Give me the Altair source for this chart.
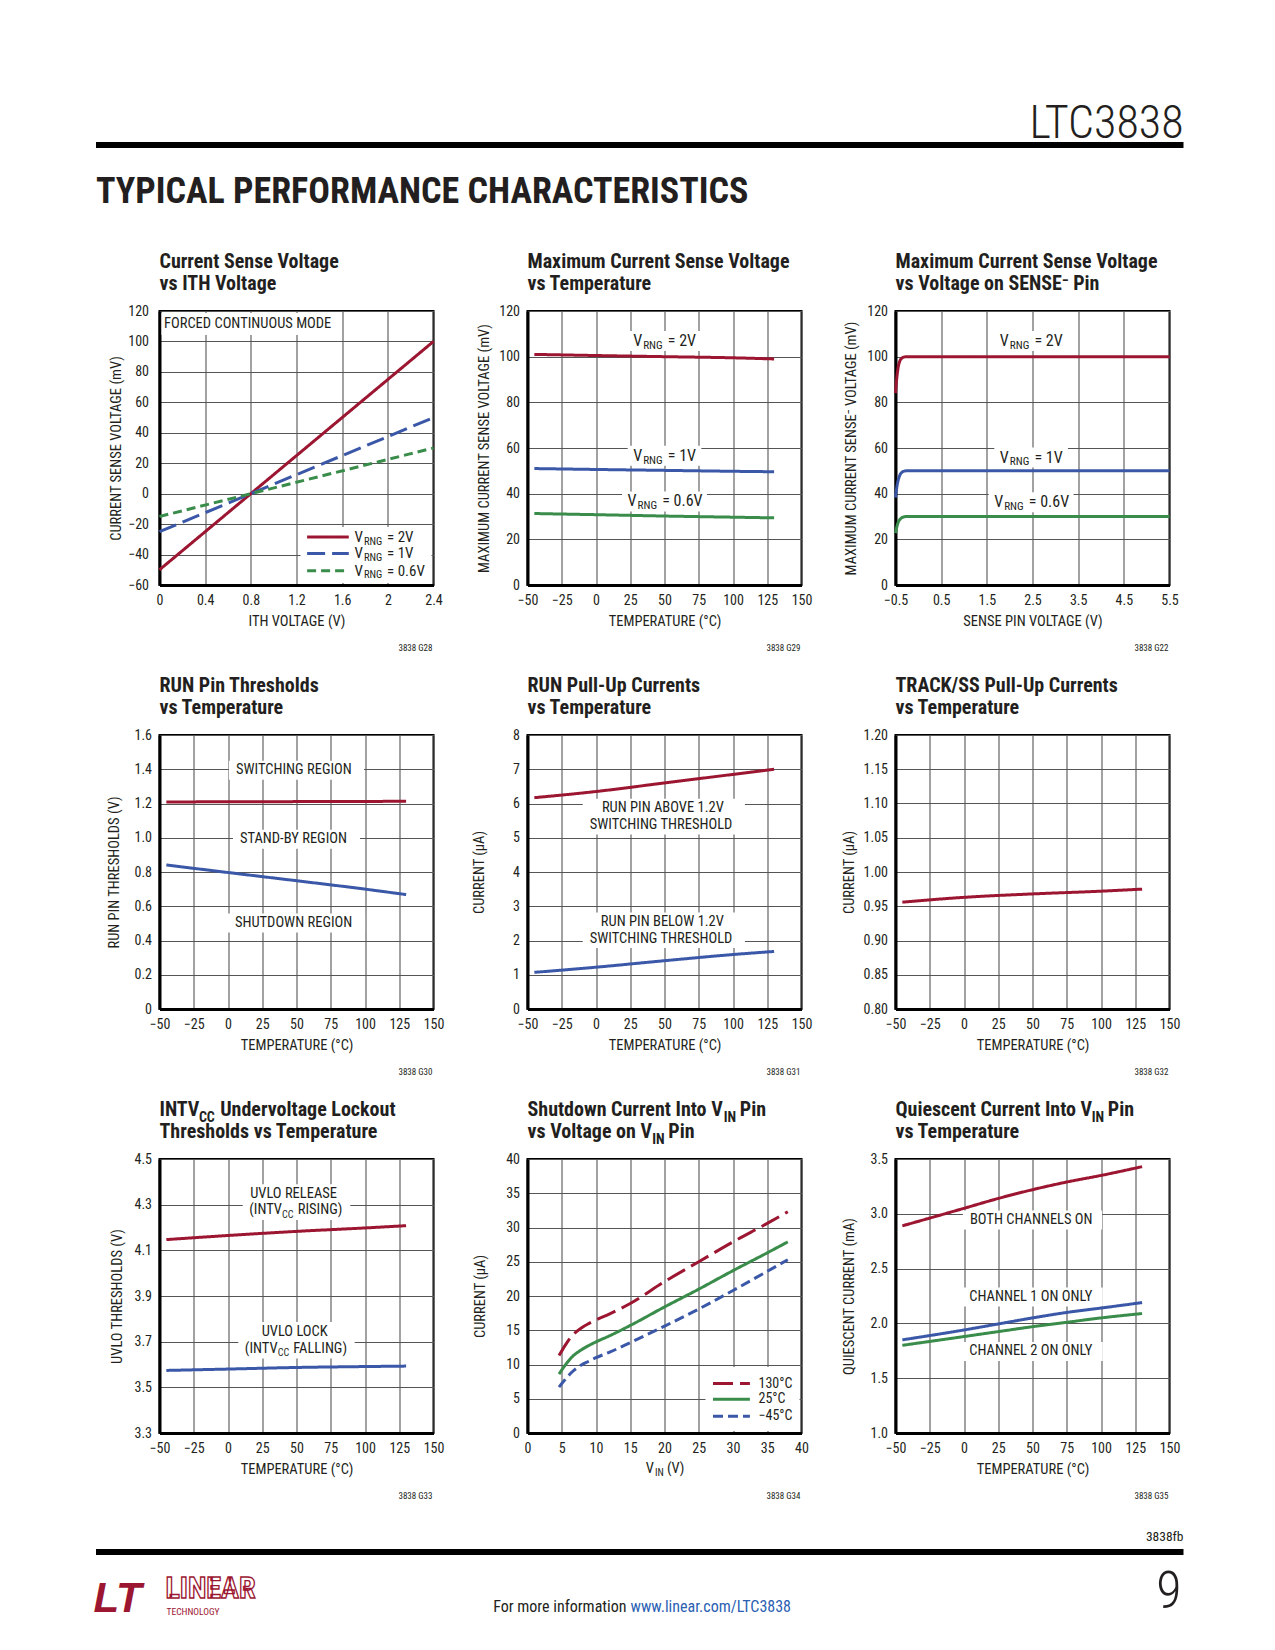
import altair as alt
import pandas as pd

FONT = "Liberation Sans Narrow, Arial Narrow, Roboto Condensed, DejaVu Sans Condensed, Liberation Sans, sans-serif"
INK = "#231f20"
RED = "#9c1631"
BLUE = "#3b58a8"
GREEN = "#3a8c4a"
LINK = "#2b5fb3"
GRID = "#555555"
W = 274
H = 274

# ---------------- data ----------------
# G28 current sense voltage vs ITH voltage
ith_v = [0.0, 0.8, 2.4]
g28_2v = [-50, 0, 100]
g28_1v = [-25, 0, 50]
g28_06v = [-15, 0, 30]
# G29 max current sense voltage vs temperature
g29_temp = [-45, 0, 50, 100, 130]
g29_2v = [101.0, 100.5, 100.0, 99.5, 99.0]
g29_1v = [51.0, 50.6, 50.2, 49.8, 49.6]
g29_06v = [31.3, 30.8, 30.2, 29.7, 29.4]
# G22 max current sense voltage vs SENSE- voltage
sense_v = [-0.5, -0.47, -0.44, -0.40, -0.35, -0.30, -0.25, 5.5]
g22_2v = [84.0, 91.0, 95.5, 98.3, 99.5, 99.9, 100.0, 100.0]
g22_1v = [38.3, 43.0, 46.0, 48.3, 49.5, 49.9, 50.0, 50.0]
g22_06v = [22.7, 25.5, 27.5, 28.8, 29.6, 29.9, 30.0, 30.0]
# G30 RUN pin thresholds
g30_temp = [-45, 0, 50, 100, 130]
g30_on = [1.209, 1.210, 1.211, 1.212, 1.213]
g30_off = [0.841, 0.797, 0.749, 0.700, 0.668]
# G31 RUN pull-up currents
g31_temp = [-45, 0, 50, 100, 130]
g31_above = [6.17, 6.35, 6.60, 6.85, 7.00]
g31_below = [1.07, 1.22, 1.41, 1.59, 1.68]
# G32 TRACK/SS pull-up current
g32_temp = [-45, 0, 50, 100, 130]
g32_ss = [0.956, 0.963, 0.968, 0.972, 0.975]
# G33 UVLO thresholds
g33_temp = [-45, 0, 50, 100, 130]
g33_release = [4.147, 4.165, 4.183, 4.198, 4.208]
g33_lock = [3.574, 3.580, 3.587, 3.591, 3.593]
# G34 shutdown current vs VIN
vin = [4.6, 5.5, 6.5, 7.8, 9, 10, 12, 15, 20, 25, 30, 35, 38]
g34_130 = [11.3, 12.8, 14.2, 15.3, 16.0, 16.5, 17.4, 18.9, 22.1, 25.0, 27.9, 30.6, 32.3]
g34_25 = [8.6, 9.9, 11.1, 12.1, 12.8, 13.3, 14.2, 15.7, 18.4, 21.0, 23.7, 26.3, 27.9]
g34_m45 = [6.7, 7.8, 8.9, 9.9, 10.5, 11.0, 11.8, 13.2, 15.6, 18.1, 20.8, 23.6, 25.3]
# G35 quiescent current vs temperature
g35_temp = [-45, 0, 25, 50, 75, 100, 130]
g35_both = [2.89, 3.05, 3.14, 3.22, 3.29, 3.35, 3.43]
g35_ch1 = [1.85, 1.94, 1.995, 2.05, 2.10, 2.14, 2.19]
g35_ch2 = [1.80, 1.88, 1.925, 1.97, 2.01, 2.05, 2.09]

temp_ticks = [-50, -25, 0, 25, 50, 75, 100, 125, 150]
codes = ["3838 G28", "3838 G29", "3838 G22", "3838 G30", "3838 G31",
         "3838 G32", "3838 G33", "3838 G34", "3838 G35"]

ONE = pd.DataFrame({"k": [0]})

# ---------------- text width estimate (Arial Narrow metrics) ----------------
AR, ARB = {}, {}
def _set(tbl, chars, w):
    for c in chars:
        tbl[c] = w
_set(AR, " !,./:;[]ftI", 278); _set(AR, "ijl", 222); _set(AR, "()-r", 333)
_set(AR, "ckvxyzsJ", 500); _set(AR, "0123456789abdeghnopquL?$", 556)
_set(AR, "=+\u2212<>", 584); _set(AR, "FTZ", 611); _set(AR, "ABEKPSVXY", 667)
_set(AR, "CDHNRUw", 722); _set(AR, "GOQ", 778); _set(AR, "Mm", 833); _set(AR, "W", 944)
_set(AR, "\u00b0", 400); _set(AR, "\u03bc", 576)
_set(ARB, " !,./:;[]Iijl", 278); _set(ARB, "()-tf", 333); _set(ARB, "r", 389)
_set(ARB, "0123456789acekvxysJ?$", 556); _set(ARB, "z", 500)
_set(ARB, "bdghnopquFTZL", 611); _set(ARB, "=+\u2212", 584); _set(ARB, "EPSVXY", 667)
_set(ARB, "ABCDHKNRU", 722); _set(ARB, "GOQw", 778); _set(ARB, "M", 833)
_set(ARB, "m", 889); _set(ARB, "W", 944)
NARROW = 0.84
NARROW_B = 0.825


def tw(s, size, bold=False):
    tbl = ARB if bold else AR
    f = NARROW_B if bold else NARROW
    return sum(tbl.get(c, 556) for c in s) * f * size / 1000.0


class Ctx:
    """Scales and axes of one panel, shared by every layer that uses data coordinates."""
    def __init__(self, xdom, ydom, xax, yax):
        self.xdom, self.ydom = xdom, ydom
        self.xs = alt.Scale(domain=xdom, nice=False, zero=False)
        self.ys = alt.Scale(domain=ydom, nice=False, zero=False)
        self.xax, self.yax = xax, yax

    def X(self, *a, **kw):
        return alt.X(*a, scale=self.xs, axis=self.xax, **kw)

    def Y(self, *a, **kw):
        return alt.Y(*a, scale=self.ys, axis=self.yax, **kw)


def rich(runs, x, y, size, bold=False, align="left", color=INK, ctx=None, baseline="middle"):
    small = size * 0.7
    items = []
    for t, k in runs:
        fs = size if k == "n" else small
        gap = (1.8 if bold else 1.0) if k != "n" else 0.0
        items.append((t, k, fs, tw(t, fs, bold) + gap, gap))
    total = sum(i[3] for i in items)
    off = {"left": 0.0, "center": -total / 2.0, "right": -total}[align]
    out = []
    for t, k, fs, wd, gap in items:
        stripped = t.lstrip(" ")
        lead = tw(" " * (len(t) - len(stripped)), fs, bold) + gap
        dy = 0 if k == "n" else (0.3 * size if k == "sub" else -0.42 * size)
        txt = stripped.rstrip(" ")
        if txt:
            mk = alt.Chart(ONE).mark_text(
                text=txt, font=FONT, fontSize=fs,
                fontWeight="bold" if bold else "normal", color=color,
                align="left", baseline=baseline, dx=off + lead, dy=dy)
            if ctx is None:
                enc = {"x": alt.value(x), "y": alt.value(y)}
            else:
                enc = {"x": ctx.X(datum=x), "y": ctx.Y(datum=y)}
            out.append(mk.encode(**enc))
        off += wd
    return out


def ptext(s, x, y, size, align="left", baseline="middle", weight="normal", color=INK,
          style="normal", font=FONT, **kw):
    return alt.Chart(ONE).mark_text(
        text=s, font=font, fontSize=size, fontWeight=weight, fontStyle=style, color=color,
        align=align, baseline=baseline, **kw).encode(x=alt.value(x), y=alt.value(y))


def pbox(x1, y1, x2, y2, color="white"):
    return alt.Chart(ONE).mark_rect(color=color).encode(
        x=alt.value(x1), x2=alt.value(x2), y=alt.value(y1), y2=alt.value(y2))


def dbox(ctx, cx, cy, wpx, hpx):
    hx = wpx / 2.0 * (ctx.xdom[1] - ctx.xdom[0]) / W
    hy = hpx / 2.0 * (ctx.ydom[1] - ctx.ydom[0]) / H
    return alt.Chart(ONE).mark_rect(color="white").encode(
        x=ctx.X(datum=cx - hx), x2=alt.X2(datum=cx + hx),
        y=ctx.Y(datum=cy - hy), y2=alt.Y2(datum=cy + hy))


def prule(x1, x2, y, color, dash, width=3):
    return alt.Chart(ONE).mark_rule(color=color, strokeWidth=width, strokeDash=dash).encode(
        x=alt.value(x1), x2=alt.value(x2), y=alt.value(y))


def labeled(ctx, lines, cx, size=14.5, padx=7, line_h=19):
    widths = [sum(tw(t, size if k == "n" else size * 0.7) for t, k in runs) for runs, _ in lines]
    ys = [y for _, y in lines]
    span_px = (max(ys) - min(ys)) * H / (ctx.ydom[1] - ctx.ydom[0])
    boxes = [dbox(ctx, cx, (max(ys) + min(ys)) / 2.0, max(widths) + 2 * padx, span_px + line_h)]
    texts = []
    for runs, y in lines:
        texts += rich(runs, cx, y, size, align="center", ctx=ctx)
    return boxes, texts


def long_df(xs, series):
    rows = []
    for name, ys in series:
        for xv, yv in zip(xs, ys):
            rows.append({"x": xv, "y": yv, "s": name})
    return pd.DataFrame(rows)


def axis_x(vals, fmt=None, expr=None, title=None):
    kw = dict(values=vals, labelFlush=False, labelOverlap=False, labelBaseline="middle",
              labelPadding=15)
    if fmt:
        kw["format"] = fmt
    if expr:
        kw["labelExpr"] = expr
    if title is not None:
        kw.update(title=title, titleY=36, titleX=W / 2, titleBaseline="middle", titleAlign="center")
    else:
        kw["title"] = None
    return alt.Axis(**kw)


def axis_y(vals, title, tx, fmt=None, expr=None, pad=8):
    kw = dict(values=vals, labelFlush=False, labelOverlap=False, labelPadding=pad,
              title=title, titleX=tx, titleY=H / 2, titleAngle=270,
              titleBaseline="middle", titleAlign="center")
    if fmt:
        kw["format"] = fmt
    if expr:
        kw["labelExpr"] = expr
    return alt.Axis(**kw)


def panel(ctx, df, names, colors, dashes, title1, title2, code, pre=None, post=None):
    line = alt.Chart(df).mark_line(strokeWidth=3, interpolate="monotone").encode(
        x=ctx.X("x:Q"),
        y=ctx.Y("y:Q"),
        color=alt.Color("s:N", scale=alt.Scale(domain=names, range=colors), legend=None),
        strokeDash=alt.StrokeDash("s:N", scale=alt.Scale(domain=names, range=dashes), legend=None),
    )
    layers = list(pre or []) + [line] + list(post or [])
    layers += rich(title1, 0, -43, 20, bold=True, baseline="alphabetic")
    layers += rich(title2, 0, -21, 20, bold=True, baseline="alphabetic")
    layers.append(ptext(code, 273, 337, 9, align="right"))
    return alt.layer(*layers).properties(width=W, height=H)


SOLID = [1, 0]
LONG = [18, 7]
SHORT = [9, 5]


def vrng(val):
    return [("V", "n"), ("RNG", "sub"), (" = " + val, "n")]


# ---------------- panel 1 ----------------
c1 = Ctx([0, 2.4], [-60, 120],
         axis_x([0, 0.4, 0.8, 1.2, 1.6, 2.0, 2.4], fmt=".1~f", title="ITH VOLTAGE (V)"),
         axis_y(list(range(-60, 121, 20)), "CURRENT SENSE VOLTAGE (mV)", -43, fmt="d", pad=11))
pre1 = [pbox(2, 2, 180, 24), pbox(141, 216, 272, 272)]
post1 = [ptext("FORCED CONTINUOUS MODE", 4.5, 13, 14.5)]
leg_y = [226, 242.4, 259.7]
for yy, col, dsh, lab in zip(leg_y, [RED, BLUE, GREEN], [SOLID, LONG, SHORT], ["2V", "1V", "0.6V"]):
    post1.append(prule(147.6, 189.3, yy, col, dsh))
    post1 += rich(vrng(lab), 195, yy, 15)
# page header (drawn relative to this panel)
post1 += [
    pbox(-63.5, -225, -62.5, -224),
    pbox(-63.5, -169, 1024, -163, color="black"),
    ptext("LTC3838", 1024, -173.5, 46, align="right", baseline="alphabetic", weight=300),
    ptext("TYPICAL PERFORMANCE CHARACTERISTICS", -63.5, -108, 36, baseline="alphabetic", weight="bold"),
]
p1 = panel(c1, long_df(ith_v, [("2V", g28_2v), ("1V", g28_1v), ("0.6V", g28_06v)]),
           ["2V", "1V", "0.6V"], [RED, BLUE, GREEN], [SOLID, LONG, SHORT],
           [("Current Sense Voltage", "n")], [("vs ITH Voltage", "n")], codes[0], pre1, post1)

# ---------------- panel 2 ----------------
c2 = Ctx([-50, 150], [0, 120],
         axis_x(temp_ticks, fmt="d", title="TEMPERATURE (\u00b0C)"),
         axis_y(list(range(0, 121, 20)), "MAXIMUM CURRENT SENSE VOLTAGE (mV)", -42.6, fmt="d"))
b2, t2 = [], []
for lab, yy in [("2V", 106.9), ("1V", 56.6), ("0.6V", 36.6)]:
    b, t = labeled(c2, [(vrng(lab), yy)], 50, size=16, padx=6, line_h=20)
    b2 += b; t2 += t
p2 = panel(c2, long_df(g29_temp, [("2V", g29_2v), ("1V", g29_1v), ("0.6V", g29_06v)]),
           ["2V", "1V", "0.6V"], [RED, BLUE, GREEN], [SOLID, SOLID, SOLID],
           [("Maximum Current Sense Voltage", "n")], [("vs Temperature", "n")], codes[1], b2, t2)

# ---------------- panel 3 ----------------
c3 = Ctx([-0.5, 5.5], [0, 120],
         axis_x([-0.5, 0.5, 1.5, 2.5, 3.5, 4.5, 5.5], fmt=".1f", title="SENSE PIN VOLTAGE (V)"),
         axis_y(list(range(0, 121, 20)), "MAXIMUM CURRENT SENSE\u207b VOLTAGE (mV)", -44.4, fmt="d"))
b3, t3 = [], []
for lab, yy in [("2V", 106.9), ("1V", 55.8), ("0.6V", 36.2)]:
    b, t = labeled(c3, [(vrng(lab), yy)], 2.47, size=16, padx=6, line_h=20)
    b3 += b; t3 += t
p3 = panel(c3, long_df(sense_v, [("2V", g22_2v), ("1V", g22_1v), ("0.6V", g22_06v)]),
           ["2V", "1V", "0.6V"], [RED, BLUE, GREEN], [SOLID, SOLID, SOLID],
           [("Maximum Current Sense Voltage", "n")],
           [("vs Voltage on SENSE\u207b Pin", "n")], codes[2], b3, t3)

# ---------------- panel 4 ----------------
c4 = Ctx([-50, 150], [0, 1.6],
         axis_x(temp_ticks, fmt="d", title="TEMPERATURE (\u00b0C)"),
         axis_y([0, 0.2, 0.4, 0.6, 0.8, 1.0, 1.2, 1.4, 1.6], "RUN PIN THRESHOLDS (V)", -45,
                expr="datum.value == 0 ? '0' : format(datum.value, '.1f')"))
b4, t4 = [], []
for lab, yy in [("SWITCHING REGION", 1.394), ("STAND-BY REGION", 0.991), ("SHUTDOWN REGION", 0.502)]:
    b, t = labeled(c4, [([(lab, "n")], yy)], 50)
    b4 += b; t4 += t
p4 = panel(c4, long_df(g30_temp, [("on", g30_on), ("off", g30_off)]),
           ["on", "off"], [RED, BLUE], [SOLID, SOLID],
           [("RUN Pin Thresholds", "n")], [("vs Temperature", "n")], codes[3], b4, t4)

# ---------------- panel 5 ----------------
c5 = Ctx([-50, 150], [0, 8],
         axis_x(temp_ticks, fmt="d", title="TEMPERATURE (\u00b0C)"),
         axis_y(list(range(0, 9)), "CURRENT (\u03bcA)", -47.6, fmt="d"))
b5a, t5a = labeled(c5, [([("RUN PIN ABOVE 1.2V", "n")], 5.86), ([("SWITCHING THRESHOLD", "n")], 5.375)], 49.5)
b5b, t5b = labeled(c5, [([("RUN PIN BELOW 1.2V", "n")], 2.54), ([("SWITCHING THRESHOLD", "n")], 2.055)], 49.5)
p5 = panel(c5, long_df(g31_temp, [("above", g31_above), ("below", g31_below)]),
           ["above", "below"], [RED, BLUE], [SOLID, SOLID],
           [("RUN Pull-Up Currents", "n")], [("vs Temperature", "n")], codes[4],
           b5a + b5b, t5a + t5b)

# ---------------- panel 6 ----------------
c6 = Ctx([-50, 150], [0.8, 1.2],
         axis_x(temp_ticks, fmt="d", title="TEMPERATURE (\u00b0C)"),
         axis_y([0.80, 0.85, 0.90, 0.95, 1.00, 1.05, 1.10, 1.15, 1.20], "CURRENT (\u03bcA)", -45.7, fmt=".2f"))
p6 = panel(c6, long_df(g32_temp, [("ss", g32_ss)]),
           ["ss"], [RED], [SOLID],
           [("TRACK/SS Pull-Up Currents", "n")], [("vs Temperature", "n")], codes[5])

# ---------------- panel 7 ----------------
c7 = Ctx([-50, 150], [3.3, 4.5],
         axis_x(temp_ticks, fmt="d", title="TEMPERATURE (\u00b0C)"),
         axis_y([3.3, 3.5, 3.7, 3.9, 4.1, 4.3, 4.5], "UVLO THRESHOLDS (V)", -42, fmt=".1f"))
b7a, t7a = labeled(c7, [([("UVLO RELEASE", "n")], 4.348),
                        ([("(INTV", "n"), ("CC", "sub"), (" RISING)", "n")], 4.275)], 50)
b7b, t7b = labeled(c7, [([("UVLO LOCK", "n")], 3.744),
                        ([("(INTV", "n"), ("CC", "sub"), (" FALLING)", "n")], 3.668)], 50)
footer = [
    pbox(-63.5, 390, 1024, 396, color="black"),
    ptext("3838fb", 1024, 378, 13.5, align="right"),
    ptext("9", 1022, 449, 52, align="right", baseline="alphabetic", weight=300),
    ptext("For more information", 467, 453, 16, align="right", baseline="alphabetic"),
    ptext("www.linear.com/LTC3838", 471, 453, 16, baseline="alphabetic", color=LINK),
    ptext("LT", -66, 453, 42, baseline="alphabetic", weight="bold", style="italic", color=RED,
          font="Liberation Sans, Arial, sans-serif"),
    ptext("LINEAR", 6, 439, 30, baseline="alphabetic", weight="bold", color="white",
          stroke=RED, strokeWidth=1.3),
    ptext("TECHNOLOGY", 7, 456, 9.5, baseline="alphabetic", color=RED),
]
p7 = panel(c7, long_df(g33_temp, [("release", g33_release), ("lock", g33_lock)]),
           ["release", "lock"], [RED, BLUE], [SOLID, SOLID],
           [("INTV", "n"), ("CC", "sub"), (" Undervoltage Lockout", "n")],
           [("Thresholds vs Temperature", "n")], codes[6],
           b7a + b7b, t7a + t7b + footer)

# ---------------- panel 8 ----------------
c8 = Ctx([0, 40], [0, 40],
         axis_x(list(range(0, 41, 5)), fmt="d", title=None),
         axis_y(list(range(0, 41, 5)), "CURRENT (\u03bcA)", -47, fmt="d"))
post8 = []
for yy, col, dsh, lab in zip([224.5, 240.3, 257.2], [RED, GREEN, BLUE], [[20, 7], SOLID, [10, 5]],
                             ["130\u00b0C", "25\u00b0C", "\u221245\u00b0C"]):
    post8.append(prule(185.5, 222.4, yy, col, dsh))
    post8.append(ptext(lab, 231, yy, 14))
post8 += rich([("V", "n"), ("IN", "sub"), (" (V)", "n")], W / 2, H + 36, 14.5, align="center")
p8 = panel(c8, long_df(vin, [("130", g34_130), ("25", g34_25), ("-45", g34_m45)]),
           ["130", "25", "-45"], [RED, GREEN, BLUE], [[20, 7], SOLID, [10, 5]],
           [("Shutdown Current Into V", "n"), ("IN", "sub"), (" Pin", "n")],
           [("vs Voltage on V", "n"), ("IN", "sub"), (" Pin", "n")], codes[7],
           [pbox(178, 208, 272, 272)], post8)

# ---------------- panel 9 ----------------
c9 = Ctx([-50, 150], [1.0, 3.5],
         axis_x(temp_ticks, fmt="d", title="TEMPERATURE (\u00b0C)"),
         axis_y([1.0, 1.5, 2.0, 2.5, 3.0, 3.5], "QUIESCENT CURRENT (mA)", -46, fmt=".1f"))
b9, t9 = [], []
for lab, yy in [("BOTH CHANNELS ON", 2.943), ("CHANNEL 1 ON ONLY", 2.24), ("CHANNEL 2 ON ONLY", 1.744)]:
    b, t = labeled(c9, [([(lab, "n")], yy)], 50)
    b9 += b; t9 += t
p9 = panel(c9, long_df(g35_temp, [("both", g35_both), ("ch1", g35_ch1), ("ch2", g35_ch2)]),
           ["both", "ch1", "ch2"], [RED, BLUE, GREEN], [SOLID, SOLID, SOLID],
           [("Quiescent Current Into V", "n"), ("IN", "sub"), (" Pin", "n")],
           [("vs Temperature", "n")], codes[8], b9, t9)

chart = alt.concat(p1, p2, p3, p4, p5, p6, p7, p8, p9, columns=3,
                   spacing=alt.RowColnumber(column=94, row=150), bounds="flush").resolve_scale(
    color="independent", strokeDash="independent"
).properties(
    padding={"left": 84.5, "top": 77, "right": 5, "bottom": 5}
).configure(font=FONT).configure_view(stroke="black", strokeWidth=2).configure_axis(
    domainColor="black", domainWidth=3, ticks=False, tickSize=0,
    grid=True, gridColor=GRID, gridWidth=1.1, gridOpacity=1,
    labelFont=FONT, labelFontSize=14, labelColor=INK,
    titleFont=FONT, titleFontSize=14.5, titleFontWeight="normal", titleColor=INK,
    labelOverlap=False, labelFlush=False,
)

chart.save("out.html", embed_options={"renderer": "svg", "actions": False})
